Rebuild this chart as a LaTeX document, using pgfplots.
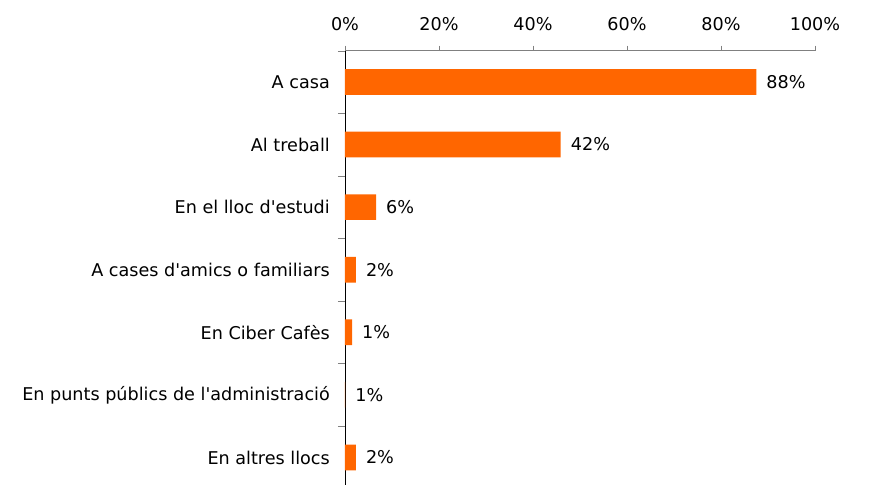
\documentclass[border=0pt]{standalone}
\usepackage{fontspec}
\setmainfont{DejaVu Sans}
\usepackage{pgfplots}
\pgfplotsset{compat=1.18}
\definecolor{barorange}{HTML}{FF6600}
\definecolor{axgray}{HTML}{808080}

\begin{document}
\fontsize{17.6bp}{21bp}\selectfont
\begin{tikzpicture}
\begin{axis}[
    scale only axis,
    width=470bp, height=434.3bp,
    xbar, bar width=25.7bp, bar shift=0pt,
    xmin=0, xmax=100,
    ymin=-0.44, ymax=6.5,
    clip=false,
    axis x line*=top, axis y line*=left,
    x axis line style={-, axgray},
    y axis line style={-, black},
    /pgf/number format/assume math mode=true,
    xtick={0,20,...,100},
    xticklabel={\pgfmathprintnumber{\tick}\%},
    xticklabel style={inner sep=0pt, yshift=15bp},
    ytick={0,...,6},
    yticklabels={En altres llocs, En punts públics de l\textquotesingle administració, En Ciber Cafès,
        A cases d\textquotesingle amics o familiars, En el lloc d\textquotesingle estudi, Al treball, A casa},
    yticklabel style={inner sep=0pt, xshift=-10bp},
    minor ytick={0.5,1.5,...,6.5},
    tick align=outside,
    major tick length=5bp, minor tick length=7bp,
    x tick style={axgray},
    major y tick style={draw=none},
    minor y tick style={axgray},
    nodes near coords={\pgfmathprintnumber{\pgfplotspointmeta}\%},
    nodes near coords style={anchor=west, inner sep=0pt, xshift=10bp, black},
    point meta=explicit,
]
\addplot[fill=barorange, draw=none] table[meta=lab] {
x    y  lab
87.5 6  88
45.9 5  42
6.6  4  6
2.3  3  2
1.5  2  1
0.05 1  1
2.3  0  2
};
\coordinate (bl) at (rel axis cs:0,0);
\end{axis}
\pgfresetboundingbox
\path (bl) ++(-345bp,0) rectangle ++(890bp,485bp);
\end{tikzpicture}
\end{document}
